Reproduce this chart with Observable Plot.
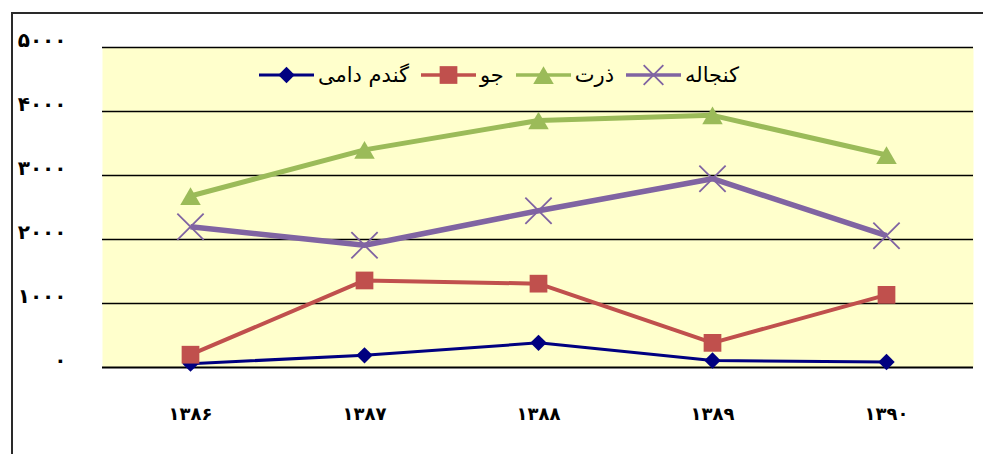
<!DOCTYPE html>
<html>
<head>
<meta charset="utf-8">
<script src="https://cdn.jsdelivr.net/npm/d3@7"></script>
<script src="https://cdn.jsdelivr.net/npm/@observablehq/plot@0.6"></script>
<style>
  html, body { margin: 0; padding: 0; background: #fff; }
  body { width: 983px; height: 454px; position: relative; overflow: hidden; font-family: "DejaVu Sans", sans-serif; }
  #border { position: absolute; left: 11px; top: 12px; width: 1000px; height: 500px; border-top: 2px solid #2a2a2a; border-left: 2px solid #2a2a2a; box-sizing: border-box; }
  #chart { position: absolute; left: 0; top: 0; }
  #legend { position: absolute; left: 259px; top: 60px; width: 480px; height: 30px; display: flex; flex-direction: row; justify-content: space-between; align-items: center; }
  .item { display: flex; flex-direction: row-reverse; align-items: center; gap: 4px; }
  .item span { font-size: 21px; color: #000; direction: rtl; line-height: 30px; }
  .tickbold text { font-weight: bold; }
</style>
</head>
<body>
<div id="border"></div>
<div id="chart"></div>
<div id="legend"></div>
<script>
// Categories (years, Persian digits)
const years = ["۱۳۸۶", "۱۳۸۷", "۱۳۸۸", "۱۳۸۹", "۱۳۹۰"];
// Series values
const wheat  = [60, 190, 385, 110, 85];       // گندم دامی
const barley = [200, 1360, 1310, 385, 1135];  // جو
const corn   = [2680, 3400, 3860, 3940, 3320]; // ذرت
const meal   = [2200, 1910, 2450, 2950, 2060]; // کنجاله
// Series names
const seriesNames = ["گندم دامی", "جو", "ذرت", "کنجاله"];
// Y tick values and labels
const yTickValues = [0, 1000, 2000, 3000, 4000, 5000];
const yTickLabels = ["۰", "۱۰۰۰", "۲۰۰۰", "۳۰۰۰", "۴۰۰۰", "۵۰۰۰"];

const styles = [
  {values: wheat,  color: "#000080", width: 3,   symbol: "diamond2", r: 7.4, stroke: null, dy: 0},
  {values: barley, color: "#C0504D", width: 4,   symbol: "square",   r: 10,  stroke: null, dy: 0},
  {values: corn,   color: "#9BBB59", width: 5,   symbol: "triangle", r: 7.6, stroke: null, dy: 3},
  {values: meal,   color: "#8064A2", width: 5.5, symbol: "times",    r: 12,  stroke: 1.8,  dy: 0}
];

const marks = [
  Plot.frame({fill: "#FFFFCC", stroke: null}),
  Plot.ruleY(yTickValues.filter(v => v > 0), {stroke: "#000", strokeWidth: 1.6}),
  Plot.ruleY([0], {stroke: "#000", strokeWidth: 2.2}),
  Plot.axisY({ticks: yTickValues, tickSize: 0, tickPadding: 36, dy: -7, className: "tickbold",
    tickFormat: v => yTickLabels[yTickValues.indexOf(v)], fontSize: 20, fill: "#000", label: null}),
  Plot.axisX({tickSize: 0, tickPadding: 40, fontSize: 18, fill: "#000", label: null, className: "tickbold"})
];

styles.forEach((s, i) => {
  const data = years.map((y, j) => ({year: y, value: s.values[j], name: seriesNames[i]}));
  marks.push(Plot.line(data, {x: "year", y: "value", stroke: s.color, strokeWidth: s.width, strokeLinejoin: "round", strokeLinecap: "butt"}));
  if (s.stroke) {
    marks.push(Plot.dot(data, {x: "year", y: "value", symbol: s.symbol, r: s.r, stroke: s.color, strokeWidth: s.stroke, fill: "none"}));
  } else {
    marks.push(Plot.dot(data, {x: "year", y: "value", symbol: s.symbol, r: s.r, fill: s.color, stroke: null, dy: s.dy}));
  }
});

const chart = Plot.plot({
  width: 983,
  height: 454,
  marginLeft: 102,
  marginRight: 10,
  marginTop: 47,
  marginBottom: 87,
  style: {fontFamily: "DejaVu Sans, sans-serif", background: "transparent", overflow: "visible"},
  x: {type: "point", domain: years, padding: 0.5},
  y: {domain: [0, 5000]},
  marks
});
document.getElementById("chart").appendChild(chart);

// Legend: first series at far left; each item has its symbol left of its text
const legend = document.getElementById("legend");
const symMap = {diamond2: d3.symbolDiamond2, square: d3.symbolSquare, triangle: d3.symbolTriangle, times: d3.symbolTimes};
styles.forEach((s, i) => {
  const item = document.createElement("div");
  item.className = "item";
  const span = document.createElement("span");
  span.textContent = seriesNames[i];
  item.appendChild(span);
  const w = 55, h = 26;
  const svg = d3.create("svg").attr("width", w).attr("height", h);
  svg.append("line").attr("x1", 0).attr("x2", w).attr("y1", h / 2).attr("y2", h / 2)
    .attr("stroke", s.color).attr("stroke-width", Math.min(s.width, 3.5));
  const rr = s.symbol === "times" ? 9 : s.r;
  const path = d3.symbol(symMap[s.symbol], Math.PI * rr * rr)();
  const p = svg.append("path").attr("d", path).attr("transform", `translate(${w / 2},${h / 2 + (s.dy || 0)})`);
  if (s.stroke) p.attr("stroke", s.color).attr("stroke-width", s.stroke).attr("fill", "none");
  else p.attr("fill", s.color);
  item.appendChild(svg.node());
  legend.appendChild(item);
});
</script>
</body>
</html>
